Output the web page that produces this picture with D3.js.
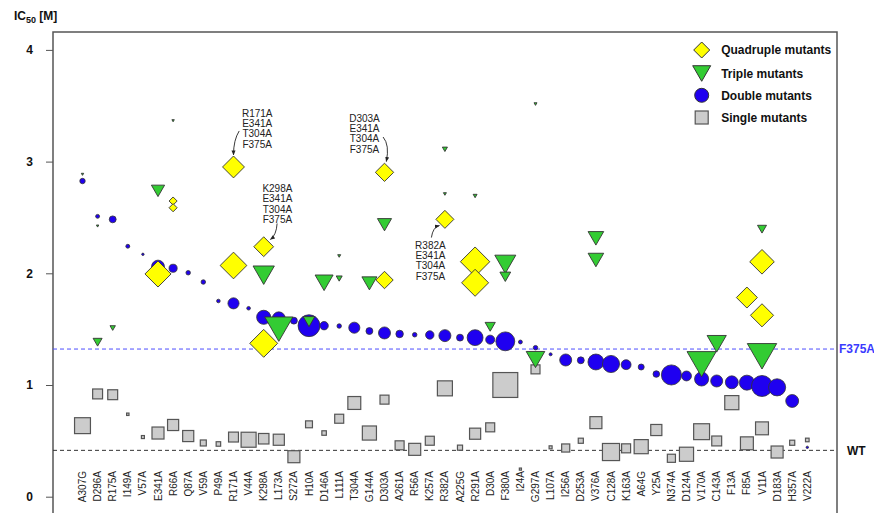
<!DOCTYPE html>
<html>
<head>
    <title>IC50 of alanine mutants</title>
    <script src="https://cdnjs.cloudflare.com/ajax/libs/d3/7.8.5/d3.min.js"></script>
    <style>
        body {
            margin: 0;
            background: #fff;
            font-family: Arial, "Liberation Sans", sans-serif;
        }
        .tick-label {
            font-size: 12px;
            font-weight: bold;
            fill: #111;
        }
        .cat-label {
            font-size: 10px;
            fill: #222;
        }
        .legend-label {
            font-size: 12px;
            font-weight: bold;
            fill: #111;
        }
        .note {
            font-size: 10px;
            fill: #222;
        }
    </style>
</head>
<body>
    <div id="chart"></div>

    <script>
        // Single mutants along the x axis
        const categories = ["A307G", "D296A", "R175A", "I149A", "V57A", "E341A", "R66A", "Q87A", "V59A", "P49A",
            "R171A", "V44A", "K298A", "L173A", "S272A", "H10A", "D146A", "L111A", "T304A", "G144A",
            "D303A", "A261A", "R56A", "K257A", "R382A", "A225G", "R291A", "D30A", "F380A", "I24A",
            "G297A", "L107A", "I256A", "D253A", "V376A", "C128A", "K163A", "A64G", "Y25A", "N374A",
            "D124A", "V170A", "C143A", "F13A", "F85A", "V11A", "D183A", "H357A", "V222A"];

        // IC50 of each single mutant, and the marker weight
        const singleValues = [0.636, 0.92, 0.913, 0.738, 0.534, 0.570, 0.642, 0.543, 0.481, 0.472,
            0.534, 0.51, 0.519, 0.51, 0.358, 0.648, 0.570, 0.698, 0.839, 0.570,
            0.869, 0.46, 0.424, 0.501, 0.970, 0.439, 0.564, 0.621, 1.0, 0.247,
            1.14, 0.442, 0.436, 0.501, 0.663, 0.40, 0.433, 0.448, 0.597, 0.344,
            0.38, 0.582, 0.499, 0.842, 0.478, 0.612, 0.40, 0.483, 0.508];
        const singleWeights = [5.3, 3.3, 3.3, 0.8, 1, 4, 3.7, 3.7, 2, 1.5,
            3.3, 5, 3.5, 3.7, 4, 2.3, 1.5, 3, 4.3, 4.7,
            3, 3, 4, 3, 5, 1.7, 3.7, 3, 8.3, 0.7,
            3, 1, 2.7, 1.7, 4, 5.7, 3, 4.7, 3.7, 2.7,
            4.7, 5.3, 3.3, 4.7, 4.3, 4.3, 4, 1.7, 1.2];

        // [mutant column, IC50, weight]
        const doubleMutants = [
            ["A307G", 2.826, 1.8], ["D296A", 2.510, 1.3], ["R175A", 2.483, 2.3], ["I149A", 2.242, 1.3],
            ["V57A", 2.17, 0.8], ["E341A", 2.06, 4.3], ["R66A", 2.045, 2.7], ["Q87A", 2.005, 1.5],
            ["V59A", 1.922, 1.5], ["P49A", 1.752, 1.2], ["R171A", 1.731, 3.7], ["V44A", 1.687, 1.2],
            ["K298A", 1.606, 4.7], ["L173A", 1.597, 4.3], ["S272A", 1.576, 2.3], ["H10A", 1.531, 7.3],
            ["D146A", 1.531, 2.8], ["L111A", 1.528, 1.5], ["T304A", 1.513, 3.7], ["G144A", 1.483, 2.3],
            ["D303A", 1.466, 4], ["A261A", 1.457, 2.5], ["R56A", 1.45, 1.5], ["K257A", 1.448, 2.8],
            ["R382A", 1.442, 4], ["A225G", 1.424, 2.3], ["R291A", 1.424, 5.3], ["D30A", 1.406, 3],
            ["F380A", 1.391, 6.3], ["I24A", 1.385, 1.3], ["G297A", 1.334, 1.5], ["L107A", 1.275, 1],
            ["I256A", 1.224, 4], ["D253A", 1.221, 2.3], ["V376A", 1.206, 5.3], ["C128A", 1.188, 5.7],
            ["K163A", 1.182, 3.3], ["A64G", 1.161, 2], ["Y25A", 1.098, 2.2], ["N374A", 1.09, 6.7],
            ["D124A", 1.081, 3.3], ["V170A", 1.054, 4.7], ["C143A", 1.036, 4], ["F13A", 1.024, 4.3],
            ["F85A", 1.021, 5], ["V11A", 0.991, 7], ["D183A", 0.979, 5.7], ["H357A", 0.857, 4.3],
            ["V222A", 0.442, 0.8]
        ];

        const tripleMutants = [
            ["A307G", 2.886, 0.8], ["D296A", 1.383, 3], ["D296A", 2.423, 0.8], ["R175A", 1.51, 1.8],
            ["E341A", 2.738, 4.4], ["R66A", 3.366, 0.8], ["K298A", 1.983, 7.1], ["L173A", 1.5, 9.4],
            ["H10A", 1.567, 3.9], ["D146A", 1.915, 6], ["L111A", 1.953, 2], ["L111A", 2.155, 1],
            ["G144A", 1.91, 5], ["D303A", 2.435, 4.7], ["R382A", 3.11, 1.7], ["R382A", 2.71, 1],
            ["R291A", 2.692, 1.3], ["D30A", 1.521, 3.4], ["F380A", 2.081, 7], ["F380A", 1.969, 3.6],
            ["G297A", 1.228, 6.2], ["G297A", 3.515, 1], ["V376A", 2.313, 5.2], ["V376A", 2.119, 5.2],
            ["V170A", 1.186, 9.7], ["C143A", 1.369, 6.4], ["V11A", 1.257, 9.8], ["V11A", 2.395, 3]
        ];

        const quadMutants = [
            ["E341A", 1.994, 8.7], ["R66A", 2.647, 2.7], ["R66A", 2.587, 2.7], ["R171A", 2.07, 8.9],
            ["R171A", 2.952, 7.3], ["K298A", 2.238, 6.6], ["K298A", 1.373, 9.3], ["D303A", 1.94, 5.8],
            ["D303A", 2.904, 6.1], ["R382A", 2.483, 6], ["R291A", 2.104, 9.8], ["R291A", 1.915, 9],
            ["F85A", 1.783, 7], ["V11A", 2.103, 8.2], ["V11A", 1.624, 7.7]
        ];

        const refLines = [
            { label: "F375A", value: 1.322 },
            { label: "WT", value: 0.415 }
        ];

        const yTicks = [0, 1, 2, 3, 4];
        const legendLabels = ["Quadruple mutants", "Triple mutants", "Double mutants", "Single mutants"];

        // Quadruple mutants called out with their four mutations
        const notes = [
            { target: ["R171A", 2.952], lines: ["R171A", "E341A", "T304A", "F375A"] },
            { target: ["K298A", 2.238], lines: ["K298A", "E341A", "T304A", "F375A"] },
            { target: ["D303A", 2.904], lines: ["D303A", "E341A", "T304A", "F375A"] },
            { target: ["R382A", 2.483], lines: ["R382A", "E341A", "T304A", "F375A"] }
        ];

        // colours
        const colors = {
            quad: "#ffff00",
            triple: "#33cc33",
            double: "#1f00f0",
            single: "#cccccc",
            edge: "#333"
        };

        function createChart() {
            const W = 874, H = 513;
            const frame = { left: 53, top: 32, right: 837 };

            const svg = d3.select('#chart')
                .append('svg')
                .attr('width', W)
                .attr('height', H);

            const x = d3.scalePoint()
                .domain(categories)
                .range([82.5, 807.3]);

            const y = d3.scaleLinear()
                .domain([0, 4])
                .range([496.7, 49.9]);

            // marker weight -> pixel size
            const size = d3.scaleLinear()
                .domain([0, 10])
                .range([0, 30]);

            // arrow head for the callouts
            svg.append('defs').append('marker')
                .attr('id', 'arrow')
                .attr('viewBox', '0 0 10 10')
                .attr('refX', 9)
                .attr('refY', 5)
                .attr('markerWidth', 5)
                .attr('markerHeight', 5)
                .attr('markerUnits', 'userSpaceOnUse')
                .attr('orient', 'auto')
                .append('path')
                .attr('d', 'M0,1 L10,5 L0,9 z')
                .attr('fill', '#222');

            // plot frame (bottom edge runs off the picture)
            svg.append('rect')
                .attr('x', frame.left)
                .attr('y', frame.top)
                .attr('width', frame.right - frame.left)
                .attr('height', H + 20 - frame.top)
                .attr('fill', 'none')
                .attr('stroke', '#555')
                .attr('stroke-width', 1.5);

            // y axis
            const yAxis = svg.append('g')
                .attr('transform', `translate(${frame.left},0)`)
                .call(d3.axisLeft(y)
                    .tickValues(yTicks)
                    .tickSize(7)
                    .tickPadding(13)
                    .tickFormat(d3.format('d')));
            yAxis.select('.domain').remove();
            yAxis.selectAll('.tick line').attr('stroke', '#555');
            yAxis.selectAll('.tick text')
                .attr('class', 'tick-label')
                .attr('font-family', null)
                .attr('font-size', null);

            // y axis title: IC50 [M]
            const title = svg.append('text')
                .attr('x', 14)
                .attr('y', 19.5)
                .style('font-size', '12px')
                .style('font-weight', 'bold')
                .attr('fill', '#111');
            title.append('tspan').text('IC');
            title.append('tspan').attr('dy', 3.5).style('font-size', '9px').text('50');
            title.append('tspan').attr('dy', -3.5).text(' [M]');

            // x category labels, rotated
            svg.append('g')
                .selectAll('text')
                .data(categories)
                .enter()
                .append('text')
                .attr('class', 'cat-label')
                .attr('transform', d => `translate(${x(d)},471) rotate(-90)`)
                .attr('text-anchor', 'end')
                .attr('dy', '0.35em')
                .text(d => d);

            // reference lines
            svg.append('g')
                .selectAll('line')
                .data(refLines)
                .enter()
                .append('line')
                .attr('x1', frame.left)
                .attr('x2', frame.right)
                .attr('y1', d => y(d.value))
                .attr('y2', d => y(d.value))
                .attr('stroke', d => d.label === 'WT' ? '#333' : '#4d4dff')
                .attr('stroke-width', 1)
                .attr('stroke-dasharray', '4,3');

            svg.append('g')
                .selectAll('text')
                .data(refLines)
                .enter()
                .append('text')
                .attr('x', d => d.label === 'WT' ? 847 : 839)
                .attr('y', d => y(d.value))
                .attr('dy', '0.36em')
                .style('font-size', '12px')
                .style('font-weight', 'bold')
                .attr('fill', d => d.label === 'WT' ? '#111' : '#3a3aff')
                .text(d => d.label);

            // marker shapes
            const diamond = (cx, cy, s) =>
                `M${cx},${cy - s / 2}L${cx + s / 2},${cy}L${cx},${cy + s / 2}L${cx - s / 2},${cy}Z`;
            const triangle = (cx, cy, s) => {
                const h = s * 0.866;
                return `M${cx - s / 2},${cy - h / 2}L${cx + s / 2},${cy - h / 2}L${cx},${cy + h / 2}Z`;
            };

            // single mutants
            const singles = categories.map((c, i) => ({ cat: c, value: singleValues[i], w: singleWeights[i] }));
            svg.append('g')
                .selectAll('rect')
                .data(singles)
                .enter()
                .append('rect')
                .attr('x', d => x(d.cat) - size(d.w) / 2)
                .attr('y', d => y(d.value) - size(d.w) / 2)
                .attr('width', d => size(d.w))
                .attr('height', d => size(d.w))
                .attr('fill', colors.single)
                .attr('stroke', '#555')
                .attr('stroke-width', 1.2);

            // double mutants
            svg.append('g')
                .selectAll('circle')
                .data(doubleMutants)
                .enter()
                .append('circle')
                .attr('cx', d => x(d[0]))
                .attr('cy', d => y(d[1]))
                .attr('r', d => size(d[2]) / 2)
                .attr('fill', colors.double)
                .attr('stroke', colors.edge)
                .attr('stroke-width', 0.8);

            // quadruple mutants
            svg.append('g')
                .selectAll('path')
                .data(quadMutants)
                .enter()
                .append('path')
                .attr('d', d => diamond(x(d[0]), y(d[1]), size(d[2])))
                .attr('fill', colors.quad)
                .attr('stroke', colors.edge)
                .attr('stroke-width', 0.9);

            // triple mutants
            svg.append('g')
                .selectAll('path')
                .data(tripleMutants)
                .enter()
                .append('path')
                .attr('d', d => triangle(x(d[0]), y(d[1]), size(d[2])))
                .attr('fill', colors.triple)
                .attr('stroke', colors.edge)
                .attr('stroke-width', 0.9);

            // callouts: text block offset and arrow path, relative to the target diamond
            const noteLayout = [
                { dx: 23.7, dy: -53.7, arrow: [[5.7, -36], [0, -27], [0, -12]] },
                { dx: 13.7, dy: -58.4, arrow: [[13.4, -23.2], [12.7, -11.7], [6.7, -7.2]] },
                { dx: -20, dy: -54.3, arrow: [[-1.4, -35.3], [5.3, -27.3], [1.8, -10.8]] },
                { dx: -14.5, dy: 25.7, arrow: [[-13.5, 18.2], [-12, 7.7], [-5.5, 6.2]] }
            ];

            notes.forEach((n, i) => {
                const px = x(n.target[0]);
                const py = y(n.target[1]);
                const lay = noteLayout[i];

                svg.append('g')
                    .selectAll('text')
                    .data(n.lines)
                    .enter()
                    .append('text')
                    .attr('class', 'note')
                    .attr('x', px + lay.dx)
                    .attr('y', (d, j) => py + lay.dy + j * 10.3)
                    .attr('dy', '0.36em')
                    .attr('text-anchor', 'middle')
                    .text(d => d);

                const [a, c, b] = lay.arrow;
                svg.append('path')
                    .attr('d', `M${px + a[0]},${py + a[1]}Q${px + c[0]},${py + c[1]} ${px + b[0]},${py + b[1]}`)
                    .attr('fill', 'none')
                    .attr('stroke', '#222')
                    .attr('stroke-width', 0.9)
                    .attr('marker-end', 'url(#arrow)');
            });

            // legend
            const legend = svg.append('g')
                .attr('transform', 'translate(701.7,0)');
            const legendY = [50, 73.5, 95.3, 117.5];

            legend.append('path')
                .attr('d', diamond(0, legendY[0], 16))
                .attr('fill', colors.quad)
                .attr('stroke', colors.edge);
            legend.append('path')
                .attr('d', triangle(0, legendY[1], 18))
                .attr('fill', colors.triple)
                .attr('stroke', colors.edge);
            legend.append('circle')
                .attr('cx', 0)
                .attr('cy', legendY[2])
                .attr('r', 7)
                .attr('fill', colors.double)
                .attr('stroke', colors.edge);
            legend.append('rect')
                .attr('x', -6.5)
                .attr('y', legendY[3] - 6.5)
                .attr('width', 13)
                .attr('height', 13)
                .attr('fill', colors.single)
                .attr('stroke', '#555')
                .attr('stroke-width', 1.2);

            legend.selectAll('.legend-label')
                .data(legendLabels)
                .enter()
                .append('text')
                .attr('class', 'legend-label')
                .attr('x', 19.5)
                .attr('y', (d, i) => legendY[i])
                .attr('dy', '0.36em')
                .text(d => d);
        }

        createChart();
    </script>
</body>
</html>
